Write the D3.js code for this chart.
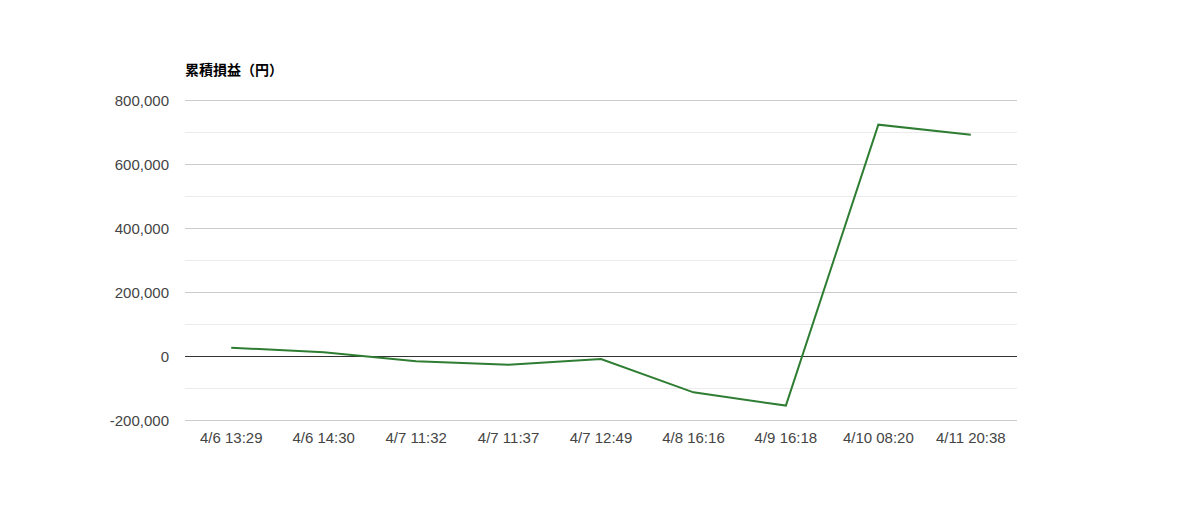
<!DOCTYPE html>
<html>
<head>
<meta charset="utf-8">
<script src="https://cdn.jsdelivr.net/npm/d3@7"></script>
<style>
  body { margin: 0; background: #fff; }
  .axis text { font-family: Arial, "Liberation Sans", sans-serif; font-size: 15px; fill: #444; }
  .axis path, .axis line { display: none; }
</style>
</head>
<body>
<div id="mainchart"></div>
<script>
var categories = ["4/6 13:29", "4/6 14:30", "4/7 11:32", "4/7 11:37", "4/7 12:49", "4/8 16:16", "4/9 16:18", "4/10 08:20", "4/11 20:38"];
var profit = [26000, 11500, -16500, -27000, -9500, -113500, -155000, 723000, 691500];
var yTicks = [-200000, 0, 200000, 400000, 600000, 800000];
var yMinorTicks = [-100000, 100000, 300000, 500000, 700000];
var title = "累積損益（円）";

var width = 1200, height = 520;
var margin = {top: 100, right: 183, bottom: 100, left: 185};
var innerW = width - margin.left - margin.right,
    innerH = height - margin.top - margin.bottom;

var svg = d3.select("#mainchart").append("svg")
  .attr("width", width)
  .attr("height", height);

var g = svg.append("g").attr("transform", "translate(" + margin.left + "," + margin.top + ")");

var x = d3.scaleBand().domain(categories).range([0, innerW]);
var y = d3.scaleLinear().domain([-200000, 800000]).range([innerH, 0]);

var comma = d3.format(",");
var fmt = function(d) { return comma(d).replace("−", "-"); };

// minor grid
g.selectAll("line.minor").data(yMinorTicks).enter().append("line")
  .attr("class", "minor")
  .attr("x1", 0).attr("x2", innerW)
  .attr("y1", d => Math.round(y(d)) + 0.5).attr("y2", d => Math.round(y(d)) + 0.5)
  .attr("stroke", "#ebebeb");

// major grid
g.selectAll("line.major").data(yTicks).enter().append("line")
  .attr("class", "major")
  .attr("x1", 0).attr("x2", innerW)
  .attr("y1", d => Math.round(y(d)) + 0.5).attr("y2", d => Math.round(y(d)) + 0.5)
  .attr("stroke", d => d === 0 ? "#333" : "#ccc");

var yAxis = d3.axisLeft(y).tickValues(yTicks).tickSize(0).tickPadding(16)
  .tickFormat(fmt);
g.append("g").attr("class", "y axis").call(yAxis)
  .selectAll("text").attr("dy", "0.35em");

var xAxis = d3.axisBottom(x).tickSize(0).tickPadding(12);
g.append("g").attr("class", "x axis")
  .attr("transform", "translate(0," + innerH + ")")
  .call(xAxis);

g.append("path")
  .datum(profit)
  .attr("fill", "none")
  .attr("stroke", "#2e7d32")
  .attr("stroke-width", 2)
  .attr("d", d3.line()
    .x((d, i) => x(categories[i]) + x.bandwidth() / 2)
    .y(d => y(d)));

svg.append("text")
  .attr("x", margin.left).attr("y", 75)
  .attr("font-family", "'Noto Sans CJK JP', sans-serif")
  .attr("font-size", 14).attr("font-weight", "bold")
  .attr("fill", "#000")
  .text(title);
</script>
</body>
</html>
